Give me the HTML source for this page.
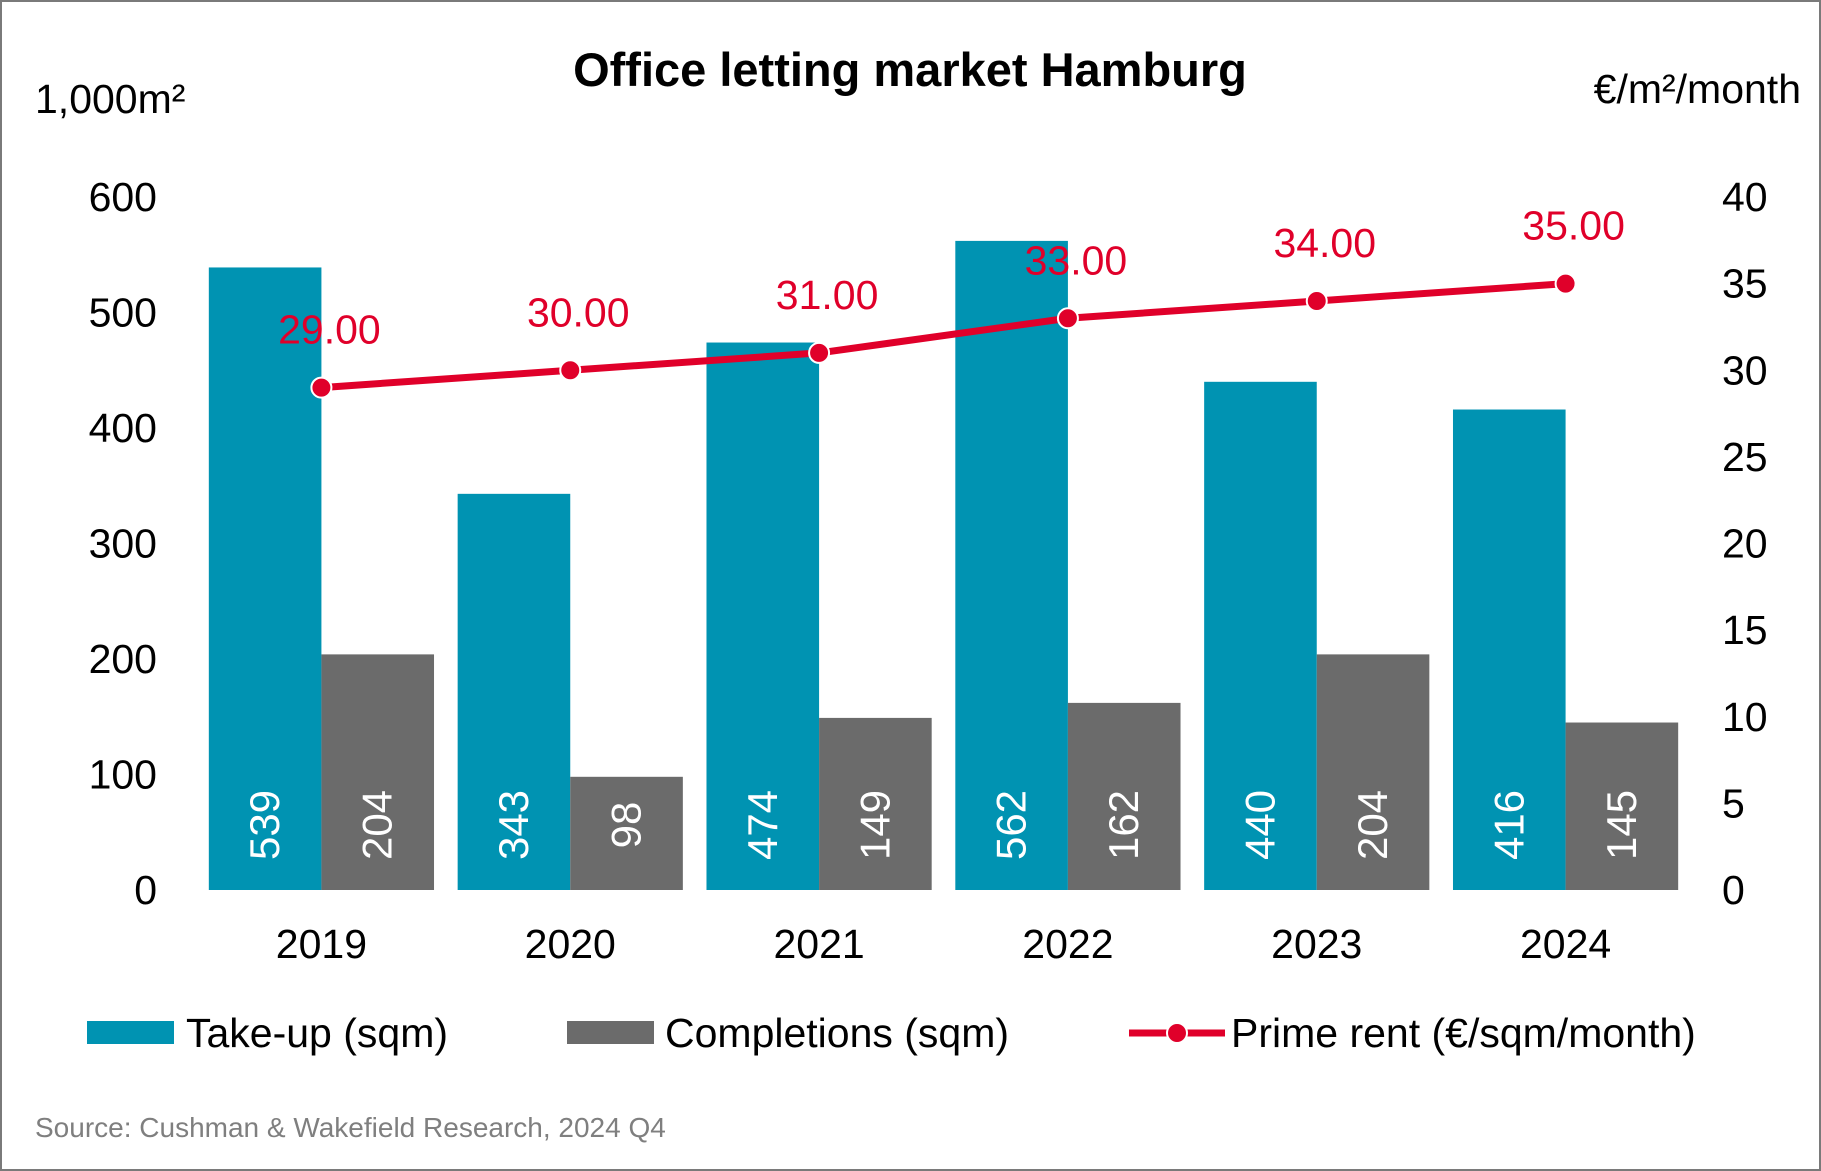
<!DOCTYPE html>
<html><head><meta charset="utf-8"><style>
html,body{margin:0;padding:0;background:#fff}
svg{display:block;font-family:"Liberation Sans",Arial,sans-serif}
</style></head><body>
<svg id="chart" width="1821" height="1171" viewBox="0 0 1821 1171">
<rect x="1" y="1" width="1819" height="1169" fill="#fff" stroke="#7a7a7a" stroke-width="2"/>
<text x="910" y="86" text-anchor="middle" font-size="47" font-weight="bold">Office letting market Hamburg</text>
<text x="35" y="113" font-size="41">1,000m²</text>
<text x="1801" y="103" text-anchor="end" font-size="41">€/m²/month</text>
<g id="bars"></g><g id="line"></g><g id="axes"></g>
<g>
<rect x="87" y="1021" width="87" height="23" fill="#0093b2"/>
<text x="186" y="1047" font-size="41">Take-up (sqm)</text>
<rect x="567" y="1021" width="87" height="23" fill="#6b6b6b"/>
<text x="665" y="1047" font-size="41">Completions (sqm)</text>
<line x1="1129" y1="1033" x2="1225" y2="1033" stroke="#e0002a" stroke-width="7"/>
<circle cx="1177" cy="1033" r="10" fill="#e0002a" stroke="#fff" stroke-width="2"/>
<text x="1231" y="1047" font-size="41">Prime rent (€/sqm/month)</text>
</g>
<text x="35" y="1137" font-size="28" fill="#7f7f7f">Source: Cushman &amp; Wakefield Research, 2024 Q4</text>
</svg>
<script>
const categories = ["2019","2020","2021","2022","2023","2024"];
const takeUp = [539,343,474,562,440,416];
const completions = [204,98,149,162,204,145];
const primeRent = [29,30,31,33,34,35];
const leftTicks = [0,100,200,300,400,500,600];
const rightTicks = [0,5,10,15,20,25,30,35,40];
const rentLabels = ["29.00","30.00","31.00","33.00","34.00","35.00"];

const NS="http://www.w3.org/2000/svg";
const plotL=197, plotR=1690, y0=890, yTop=197;
const groupW=(plotR-plotL)/categories.length, barW=112.6;
function yL(v){return y0-(v/600)*(y0-yTop);}
function yR(v){return y0-(v/40)*(y0-yTop);}
function cx(i){return plotL+groupW*(i+0.5);}
function mk(tag,attrs,parent,text){const e=document.createElementNS(NS,tag);for(const k in attrs)e.setAttribute(k,attrs[k]);if(text!==undefined)e.textContent=text;parent.appendChild(e);return e;}
const bars=document.getElementById('bars'), line=document.getElementById('line'), axes=document.getElementById('axes');

categories.forEach((c,i)=>{
  const x=cx(i);
  const t=mk('rect',{x:x-barW,y:yL(takeUp[i]),width:barW,height:y0-yL(takeUp[i]),fill:'#0093b2'},bars);
  
  
  const g=mk('rect',{x:x,y:yL(completions[i]),width:barW,height:y0-yL(completions[i]),fill:'#6b6b6b'},bars);
  
  
  const tl=mk('text',{x:0,y:0,transform:`translate(${x-barW/2+14},825) rotate(-90)`,'text-anchor':'middle','font-size':42,fill:'#fff','font-family':'"Liberation Sans Narrow","Liberation Sans",sans-serif'},bars,String(takeUp[i]));
  
  
  const gl=mk('text',{x:0,y:0,transform:`translate(${x+barW/2+14},825) rotate(-90)`,'text-anchor':'middle','font-size':42,fill:'#fff','font-family':'"Liberation Sans Narrow","Liberation Sans",sans-serif'},bars,String(completions[i]));
  
  
  const yl=mk('text',{x:x,y:958,'text-anchor':'middle','font-size':41},axes,c);
  
  
});
const pts=primeRent.map((v,i)=>cx(i)+','+yR(v)).join(' ');
const pl=mk('polyline',{points:pts,fill:'none',stroke:'#e0002a','stroke-width':7,'stroke-linejoin':'round'},line);


primeRent.forEach((v,i)=>{
  const p=mk('circle',{cx:cx(i),cy:yR(v),r:10,fill:'#e0002a',stroke:'#fff','stroke-width':2},line);
  
  
  const l=mk('text',{x:cx(i)+8,y:yR(v)-44,'text-anchor':'middle','font-size':41,fill:'#e0002a'},line,rentLabels[i]);
  
  
});
leftTicks.forEach(v=>{
  const t=mk('text',{x:157,y:yL(v)+14,'text-anchor':'end','font-size':41},axes,String(v));
  
  
});
rightTicks.forEach(v=>{
  const t=mk('text',{x:1722,y:yR(v)+14,'text-anchor':'start','font-size':41},axes,String(v));
  
  
});
</script>
</body></html>
